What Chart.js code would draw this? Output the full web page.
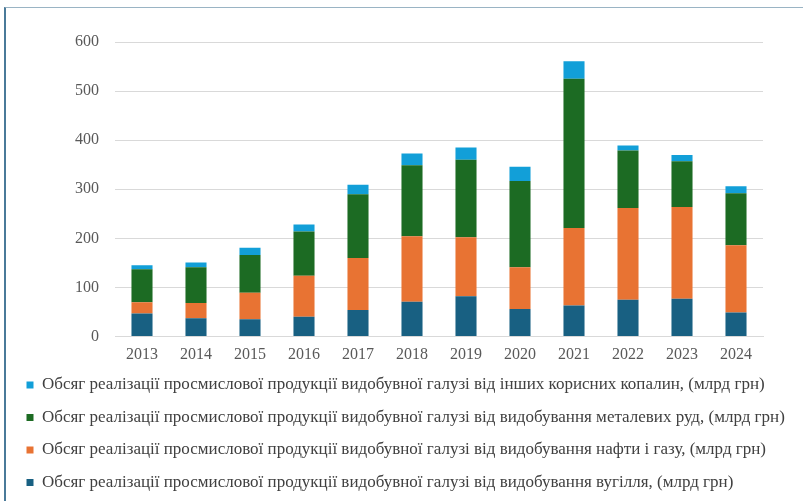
<!DOCTYPE html>
<html>
<head>
<meta charset="utf-8">
<script src="https://cdn.jsdelivr.net/npm/chart.js@4/dist/chart.umd.min.js"></script>
<style>
  html, body { margin: 0; padding: 0; background: #fff; }
  #wrap { position: relative; width: 803px; height: 501px; overflow: hidden; }
  #frame {
    position: absolute; left: 4px; top: 7px; right: 0; bottom: 0;
    border-top: 1px solid #9ab4c4; border-left: 2px solid #4a7a99;
    pointer-events: none;
  }
</style>
</head>
<body>
<div id="wrap">
  <canvas id="chart" width="803" height="501"></canvas>
  <div id="frame"></div>
</div>
<script>
var years = ["2013", "2014", "2015", "2016", "2017", "2018", "2019", "2020", "2021", "2022", "2023", "2024"];

// mlrd UAH
var coal  = [47, 37, 35, 40, 54, 71, 82, 56, 63, 75, 77, 49];
var oilGas = [23, 31, 54, 84, 106, 133, 120, 85, 158, 187, 187, 137];
var metalOre = [67, 73, 77, 90, 130, 145, 158, 176, 304, 117, 93, 106];
var other = [8, 10, 15, 14, 19, 24, 25, 29, 36, 10, 13, 14];

var yTicks = [0, 100, 200, 300, 400, 500, 600];

var labelCoal = "Обсяг реалізації просмислової продукції видобувної галузі від видобування вугілля, (млрд грн)";
var labelOil = "Обсяг реалізації просмислової продукції видобувної галузі від видобування нафти і газу, (млрд грн)";
var labelMetal = "Обсяг реалізації просмислової продукції видобувної галузі від видобування металевих руд, (млрд грн)";
var labelOther = "Обсяг реалізації просмислової продукції видобувної галузі від інших корисних копалин, (млрд грн)";

var font = "'Liberation Serif', 'Times New Roman', serif";

function bar(label, data, color) {
  return {
    label: label,
    data: data,
    backgroundColor: color,
    borderWidth: 0,
    barPercentage: 0.78,
    categoryPercentage: 0.5
  };
}

var ctx = document.getElementById("chart").getContext("2d");
var myChart = new Chart(ctx, {
  type: "bar",
  data: {
    labels: years,
    datasets: [
      bar(labelCoal, coal, "#186082"),
      bar(labelOil, oilGas, "#e87333"),
      bar(labelMetal, metalOre, "#1c6b23"),
      bar(labelOther, other, "#129fd8")
    ]
  },
  options: {
    responsive: false,
    animation: false,
    layout: { padding: { left: 11, right: 0, top: 42, bottom: 0 } },
    scales: {
      x: {
        stacked: true,
        grid: { display: false, drawTicks: false },
        border: { display: true, color: "#d9d9d9" },
        ticks: { color: "#595959", font: { family: font, size: 16 }, padding: 9 },
        afterFit: function (scale) { scale.height = 24.5; }
      },
      y: {
        stacked: true,
        min: 0,
        max: 600,
        afterBuildTicks: function (scale) {
          scale.ticks = yTicks.map(function (v) { return { value: v }; });
        },
        grid: { color: "#d9d9d9", drawTicks: false },
        border: { display: false },
        ticks: { color: "#595959", font: { family: font, size: 16 }, padding: 16 },
        afterFit: function (scale) { scale.width = 104; }
      },
      // empty right axis, only keeps the plot clear of the right edge
      yRight: {
        position: "right",
        grid: { display: false, drawTicks: false },
        border: { display: false },
        ticks: { display: false },
        afterFit: function (scale) { scale.width = 40; }
      }
    },
    plugins: {
      tooltip: { enabled: false },
      legend: {
        position: "bottom",
        align: "start",
        reverse: true,
        labels: {
          boxWidth: 7,
          boxHeight: 7,
          padding: 15.5,
          color: "#404040",
          font: { family: font, size: 17 }
        }
      }
    }
  }
});
</script>
</body>
</html>
